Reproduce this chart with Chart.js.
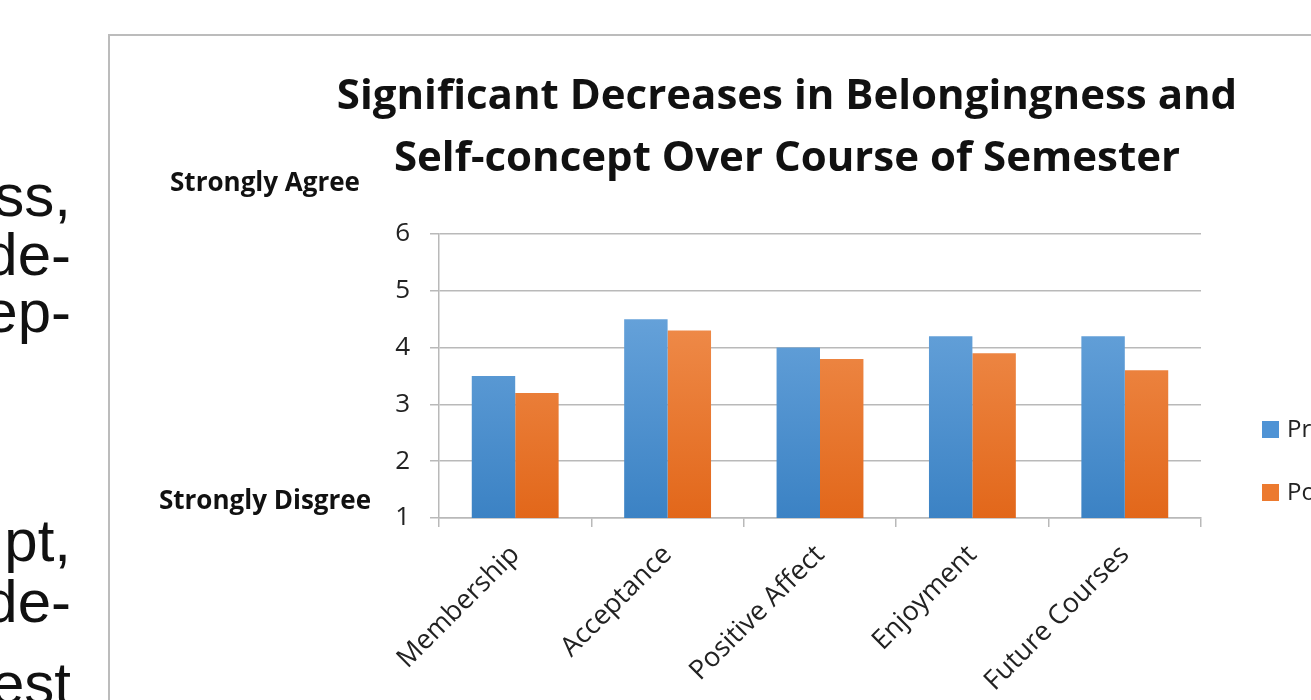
<!DOCTYPE html>
<html>
<head>
<meta charset="utf-8">
<script src="https://cdn.jsdelivr.net/npm/chart.js@4/dist/chart.umd.min.js"></script>
<style>
  html, body { margin: 0; padding: 0; background: #fff; overflow: hidden; width: 1311px; height: 700px; }
  .slideText { position: absolute; right: calc(1311px - 71px); font-family: "Liberation Sans", Arial, sans-serif; font-size: 60px; line-height: 60px; color: #111; white-space: nowrap; text-align: right; }
  #box { position: absolute; left: 108px; top: 34px; width: 1354px; height: 680px; border: 2px solid #bcbcbc; background: #fff; }
</style>
</head>
<body>
<div class="slideText" style="top:166px">ss,</div>
<div class="slideText" style="top:225px">de-</div>
<div class="slideText" style="top:282px">ep-</div>
<div class="slideText" style="top:511px">pt,</div>
<div class="slideText" style="top:572px">de-</div>
<div class="slideText" style="top:654px">est</div>
<div id="box"><canvas id="myChart"></canvas></div>
<script>
const categories = ['Membership', 'Acceptance', 'Positive Affect', 'Enjoyment', 'Future Courses'];
const preValues = [3.5, 4.5, 4.0, 4.2, 4.2];
const postValues = [3.2, 4.3, 3.8, 3.9, 3.6];
const yTicks = [1, 2, 3, 4, 5, 6];
const seriesNames = ['Pre', 'Post'];
const titleLines = ['Significant Decreases in Belongingness and', 'Self-concept Over Course of Semester'];
const topNote = 'Strongly Agree';
const bottomNote = 'Strongly Disgree';

const FONT = '"Open Sans", "Noto Sans", sans-serif';

function barGradient(top, bottom) {
    return function(context) {
        const area = context.chart.chartArea;
        if (!area) return bottom;
        const g = context.chart.ctx.createLinearGradient(0, area.top, 0, area.bottom);
        g.addColorStop(0, top);
        g.addColorStop(1, bottom);
        return g;
    };
}

// title, side notes and legend drawn as text on the canvas
const notesAndLegend = {
    id: 'notesAndLegend',
    afterDraw(chart) {
        const ctx = chart.ctx;
        const y = chart.scales.y;
        ctx.save();
        ctx.fillStyle = '#111';
        ctx.textAlign = 'center';
        ctx.textBaseline = 'middle';

        ctx.font = 'bold 42px ' + FONT;
        titleLines.forEach((line, i) => ctx.fillText(line, 677, 61 + i * 62));

        ctx.font = 'bold 26px ' + FONT;
        ctx.fillText(topNote, 155, y.getPixelForValue(6) - 50);
        ctx.fillText(bottomNote, 155, y.getPixelForValue(1) - 16);

        // legend (right side, clipped by the window like the original)
        ctx.textAlign = 'left';
        ctx.font = '24px ' + FONT;
        const solid = ['#4f93d5', '#ec7a2f'];
        chart.data.datasets.forEach((ds, i) => {
            const cy = 393 + i * 63;
            ctx.fillStyle = solid[i];
            ctx.fillRect(1152, cy - 8, 17, 17);
            ctx.fillStyle = '#222';
            ctx.fillText(ds.label, 1177, cy + 1);
        });
        ctx.restore();
    }
};

const canvas = document.getElementById('myChart');
canvas.width = 1354;
canvas.height = 680;

const myChart = new Chart(canvas.getContext('2d'), {
    type: 'bar',
    data: {
        labels: categories,
        datasets: [{
            label: seriesNames[0],
            data: preValues,
            backgroundColor: barGradient('#76aee2', '#3b82c4'),
            borderWidth: 0
        }, {
            label: seriesNames[1],
            data: postValues,
            backgroundColor: barGradient('#f49a5e', '#e2671a'),
            borderWidth: 0
        }]
    },
    options: {
        responsive: false,
        animation: false,
        categoryPercentage: 0.57,
        barPercentage: 1.0,
        layout: { padding: { left: 263, right: 263, top: 198, bottom: 0 } },
        plugins: {
            legend: { display: false },
            tooltip: { enabled: false },
            title: { display: false }
        },
        scales: {
            y: {
                min: 1,
                max: 6,
                afterFit(scale) { scale.width = 66; },
                afterBuildTicks(scale) { scale.ticks = yTicks.map(v => ({ value: v })); },
                ticks: { color: '#222', font: { family: FONT, size: 26 }, padding: 20 },
                grid: { color: '#b9b9b9', lineWidth: 1.5, tickLength: 9 },
                border: { color: '#b9b9b9', width: 1.5 }
            },
            x: {
                afterFit(scale) { scale.height = 680 - 482; },
                ticks: { color: '#222', font: { family: FONT, size: 27 }, minRotation: 45, maxRotation: 45, padding: 12 },
                grid: { drawOnChartArea: false, color: '#b9b9b9', lineWidth: 1.5, tickLength: 9 },
                border: { color: '#b9b9b9', width: 1.5 }
            }
        }
    },
    plugins: [notesAndLegend]
});
</script>
</body>
</html>
